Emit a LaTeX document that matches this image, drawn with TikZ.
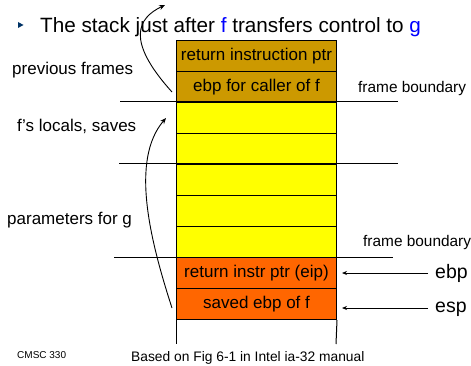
\documentclass[tikz,border=0pt]{standalone}
\usepackage{fontspec}
\setmainfont{Liberation Sans}
\usetikzlibrary{arrows.meta}
\definecolor{brownbox}{RGB}{204,153,0}
\definecolor{yellowbox}{RGB}{255,255,0}
\definecolor{orangebox}{RGB}{255,102,0}
\definecolor{titleblue}{RGB}{0,0,255}
\definecolor{bulletblue}{RGB}{0,51,102}
\tikzset{
  cell/.style={draw=black, line width=1pt, minimum width=160pt, minimum height=31pt, inner sep=0pt, anchor=north west, font=\fontsize{17}{19}\selectfont},
  side/.style={anchor=west, inner sep=0pt, font=\fontsize{17}{19}\selectfont},
  fb/.style={anchor=west, inner sep=0pt, font=\fontsize{15.4}{17}\selectfont},
  reg/.style={anchor=west, inner sep=0pt, font=\fontsize{19.5}{22}\selectfont},
  bline/.style={line width=1pt},
  curvarrow/.style={line width=0.9pt, -{Stealth[length=6pt,width=5pt]}},
  ptrarrow/.style={line width=0.8pt, -{Stealth[length=5pt,width=4pt]}}
}
\begin{document}
\begin{tikzpicture}[x=1pt,y=-1pt]
\useasboundingbox (0,0) rectangle (471,366);
% title
\fill[bulletblue] (18,22) -- (23.5,25) -- (18,28) -- cycle;
\node[anchor=base west, inner sep=0pt, font=\fontsize{20.7}{23}\selectfont] (title) at (40,33) {The stack just after \textcolor{titleblue}{f} transfers control to \textcolor{titleblue}{g}};
% stack cells
\node[cell, fill=brownbox] (r1) at (176,40) {return instruction ptr};
\node[cell, fill=brownbox] (r2) at (176,71) {ebp for caller of f};
\node[cell, fill=yellowbox] (y1) at (176,102) {};
\node[cell, fill=yellowbox] (y2) at (176,133) {};
\node[cell, fill=yellowbox] (y3) at (176,164) {};
\node[cell, fill=yellowbox] (y4) at (176,195) {};
\node[cell, fill=yellowbox] (y5) at (176,226) {};
\node[cell, fill=orangebox] (o1) at (176,257) {return instr ptr (eip)};
\node[cell, fill=orangebox] (o2) at (176,288) {saved ebp of f};
\coordinate (bl) at (176,344);
\coordinate (br) at (336,344);
\draw[bline] (o2.south west) -- (bl);
\draw[bline] (o2.south east) -- (br);
% frame boundary lines
\coordinate (fb1l) at (120,102); \coordinate (fb1r) at (398,102);
\coordinate (fb2l) at (119,164); \coordinate (fb2r) at (398,164);
\coordinate (fb3l) at (114,257); \coordinate (fb3r) at (393,257);
\draw[bline] (fb1l) -- (fb1r);
\draw[bline] (fb2l) -- (fb2r);
\draw[bline] (fb3l) -- (fb3r);
% side labels
\node[side] (prev) at (12,70) {previous frames};
\node[side] (locals) at (17,126) {f's locals, saves};
\node[side] (params) at (7,220) {parameters for g};
\node[fb] (fbt1) at (358,89) {frame boundary};
\node[fb] (fbt2) at (363,243) {frame boundary};
\node[reg] (ebp) at (435,273) {ebp};
\node[reg] (esp) at (435,309) {esp};
\coordinate (ebpa) at (428,273); \coordinate (ebpt) at (342,273);
\coordinate (espa) at (428,308); \coordinate (espt) at (342,308);
\draw[ptrarrow] (ebpa) -- (ebpt);
\draw[ptrarrow] (espa) -- (espt);
% curved arrows
\coordinate (c1s) at (172,92); \coordinate (c1e) at (165,5);
\draw[curvarrow] (c1s) .. controls (125,40) and (138,18) .. (c1e);
\coordinate (c2s) at (172,308); \coordinate (c2e) at (166,118);
\draw[curvarrow] (c2s) .. controls (150,240) and (130,160) .. (c2e);
% footer
\node[anchor=west, inner sep=0pt, font=\fontsize{10}{11}\selectfont] (cmsc) at (17,355) {CMSC 330};
\node[anchor=west, inner sep=0pt, font=\fontsize{13.8}{15}\selectfont] (based) at (131,358) {Based on Fig 6-1 in Intel ia-32 manual};
\end{tikzpicture}
\end{document}
